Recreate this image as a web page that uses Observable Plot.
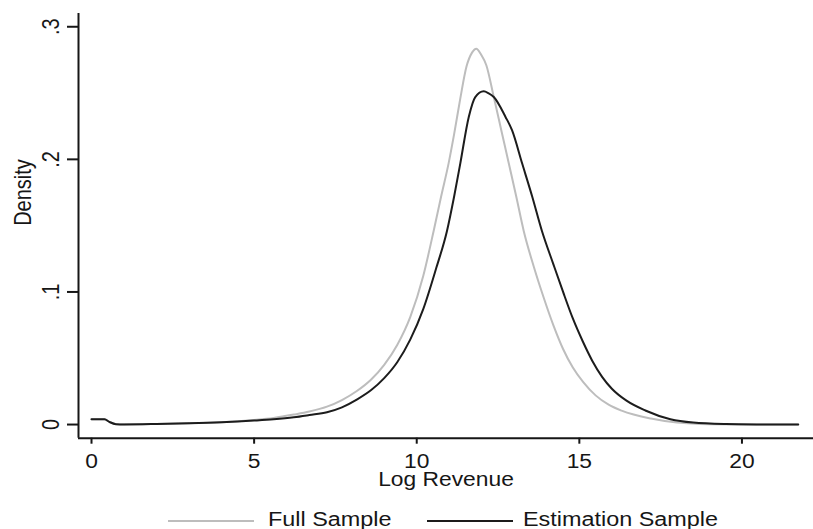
<!DOCTYPE html>
<html><head><meta charset="utf-8">
<script src="https://cdn.jsdelivr.net/npm/d3@7"></script>
<script src="https://cdn.jsdelivr.net/npm/@observablehq/plot@0.6"></script>
<style>
body{margin:0;background:#fff;font-family:"Liberation Sans",Arial,sans-serif;}
#chart svg{display:block}
</style></head><body><div id="chart"></div>
<script>
// Full Sample (gray) density
const xFull = [0, 0.4, 0.55, 0.75, 1, 2, 3, 4, 5, 5.6, 6.22, 6.7, 7.24, 7.7, 8.17, 8.6, 9.0, 9.4, 9.8, 10.2, 10.52, 10.75, 10.98, 11.15, 11.34, 11.53, 11.7, 11.83, 11.98, 12.14, 12.37, 12.6, 12.83, 13.06, 13.29, 13.6, 13.9, 14.2, 14.5, 14.8, 15.12, 15.5, 15.9, 16.3, 17.2, 18, 19, 20, 21.73];
const yFull = [0.004, 0.004, 0.002, 0.0004, 0.0002, 0.0005, 0.001, 0.0018, 0.0035, 0.005, 0.0075, 0.0098, 0.0135, 0.0185, 0.0255, 0.034, 0.045, 0.06, 0.081, 0.112, 0.146, 0.172, 0.197, 0.219, 0.246, 0.27, 0.2805, 0.2835, 0.279, 0.271, 0.247, 0.222, 0.197, 0.172, 0.146, 0.119, 0.096, 0.075, 0.057, 0.043, 0.032, 0.022, 0.015, 0.0105, 0.0045, 0.0015, 0.0003, 0.0001, 0];
// Estimation Sample (black) density
const xEst = [0, 0.4, 0.55, 0.75, 1, 2, 3, 4, 5, 5.6, 6.22, 6.7, 7.24, 7.7, 8.17, 8.6, 9.0, 9.4, 9.8, 10.2, 10.6, 10.93, 11.15, 11.34, 11.6, 11.8, 12.06, 12.2, 12.37, 12.73, 12.93, 13.24, 13.55, 13.85, 14.2, 14.5, 14.8, 15.1, 15.4, 15.7, 16.0, 16.45, 17.03, 17.8, 18.5, 19.5, 20.5, 21.73];
const yEst = [0.004, 0.004, 0.002, 0.0003, 0.0001, 0.0004, 0.0009, 0.0017, 0.003, 0.004, 0.0055, 0.0072, 0.0093, 0.013, 0.019, 0.026, 0.035, 0.047, 0.064, 0.087, 0.118, 0.146, 0.172, 0.197, 0.232, 0.247, 0.2513, 0.25, 0.247, 0.232, 0.222, 0.197, 0.172, 0.146, 0.121, 0.1, 0.08, 0.063, 0.048, 0.036, 0.027, 0.018, 0.0106, 0.004, 0.0015, 0.0004, 0.0001, 0];

const seriesNames = ["Full Sample", "Estimation Sample"];
const seriesColors = ["#bdbdbd", "#1c1c1c"];
const xTicks = [0, 5, 10, 15, 20];
const yTicks = [0, 0.1, 0.2, 0.3];
const xTitle = "Log Revenue";
const yTitle = "Density";

const full = xFull.map((x, i) => ({x, y: yFull[i]}));
const est = xEst.map((x, i) => ({x, y: yEst[i]}));
const fmtY = d => d === 0 ? "0" : String(d).replace(/^0/, "");
const xDom = [-0.4, 22.2];
const yDom = [-0.0103, 0.31];
const ink = "#161616";

const H = 496;
const plot = Plot.plot({
  width: 813, height: H,
  marginLeft: 78, marginRight: 0, marginTop: 13, marginBottom: H - 437.7,
  x: {domain: xDom},
  y: {domain: yDom},
  style: {fontFamily: '"Liberation Sans", Arial, sans-serif', fontSize: "20px", color: ink, background: "#fff", overflow: "visible"},
  marks: [
    Plot.line(full, {x: "x", y: "y", stroke: seriesColors[0], strokeWidth: 2, curve: "monotone-x"}),
    Plot.line(est, {x: "x", y: "y", stroke: seriesColors[1], strokeWidth: 2, curve: "monotone-x"}),
    Plot.ruleX([xDom[0]], {stroke: ink, strokeWidth: 2}),
    Plot.ruleY([yDom[0]], {stroke: ink, strokeWidth: 2}),
    Plot.axisY({ticks: yTicks, tickSize: 11, tickFormat: () => "", label: null, strokeWidth: 2, stroke: ink}),
    Plot.text(yTicks, {y: d => d, text: fmtY, frameAnchor: "left", dx: -20, rotate: -90, lineAnchor: "bottom", textAnchor: "middle", fontSize: 23.4, fill: ink}),
    Plot.axisX({ticks: xTicks, tickSize: 6, tickPadding: 10, fontSize: 19.5, label: null, strokeWidth: 2, stroke: ink, fill: ink}),
    Plot.text([xTitle], {frameAnchor: "bottom", dy: 48, lineAnchor: "bottom", fontSize: 19.5, fill: ink}),
    Plot.text([yTitle], {frameAnchor: "left", dx: -48, rotate: -90, lineAnchor: "bottom", fontSize: 23.4, fill: ink})
  ]
});
document.getElementById("chart").appendChild(plot);

// legend below the plot
const leg = d3.create("svg").attr("width", 813).attr("height", 529 - H)
  .style("display", "block").style("font-family", '"Liberation Sans", Arial, sans-serif');
const legItems = [
  {name: seriesNames[0], color: seriesColors[0], x0: 168, x1: 254, tx: 268},
  {name: seriesNames[1], color: seriesColors[1], x0: 427, x1: 513, tx: 523}
];
for (const it of legItems) {
  leg.append("line").attr("x1", it.x0).attr("x2", it.x1).attr("y1", 25).attr("y2", 25)
    .attr("stroke", it.color).attr("stroke-width", 2);
  leg.append("text").attr("x", it.tx).attr("y", 30).attr("font-size", 20).attr("fill", ink).text(it.name);
}
document.getElementById("chart").appendChild(leg.node());

// emulate the horizontally stretched look of the original image
document.querySelectorAll("#chart svg text").forEach(t => {
  const L = t.getComputedTextLength();
  if (!L) return;
  const rot = (t.getAttribute("transform") || "").includes("rotate");
  t.setAttribute("textLength", rot ? L / 1.17 : L * 1.17);
  t.setAttribute("lengthAdjust", "spacingAndGlyphs");
});
</script></body></html>
